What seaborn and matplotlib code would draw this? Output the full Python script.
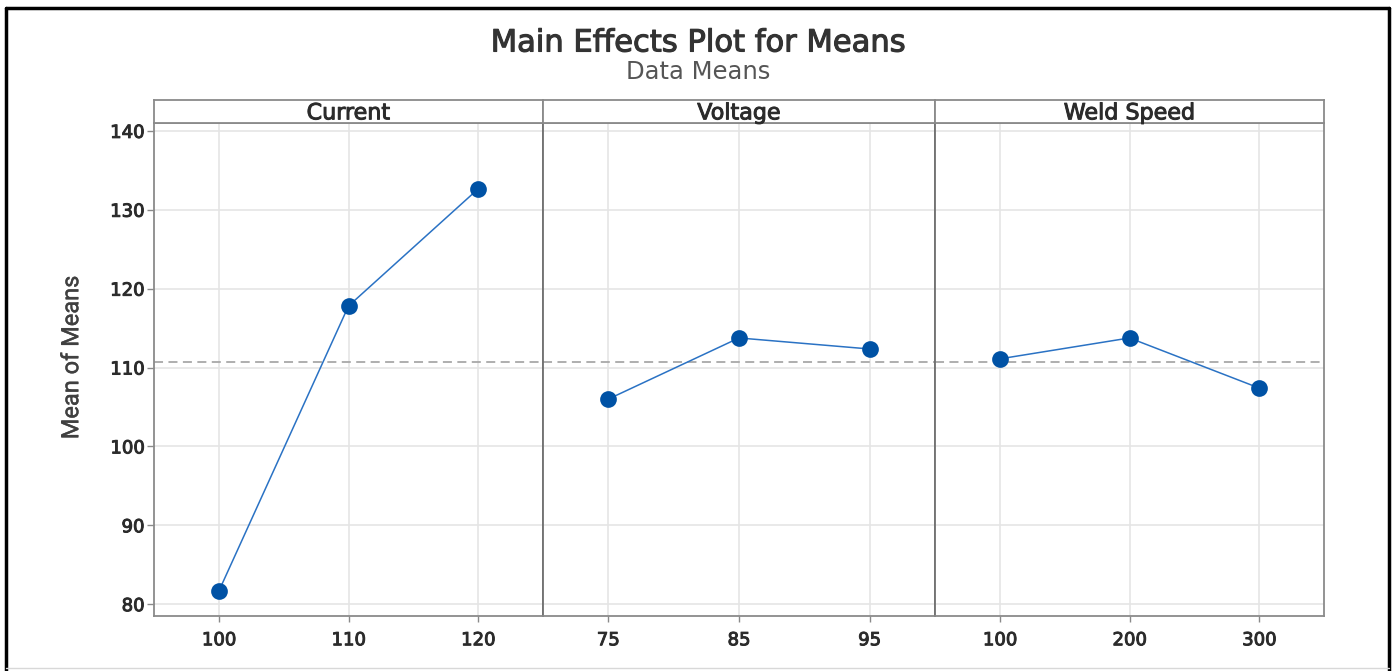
import numpy as np
import pandas as pd
import matplotlib
matplotlib.use("Agg")
import matplotlib.pyplot as plt
import matplotlib.patheffects as pe
import seaborn as sns
from matplotlib.lines import Line2D

# Main effects plot for means
factors = ["Current", "Voltage", "Weld Speed"]
current_levels = ["100", "110", "120"]
voltage_levels = ["75", "85", "95"]
speed_levels = ["100", "200", "300"]
current_means = [81.65, 117.8, 132.65]
voltage_means = [106.0, 113.75, 112.35]
speed_means = [111.1, 113.75, 107.4]
y_ticks = [80, 90, 100, 110, 120, 130, 140]

levels = [current_levels, voltage_levels, speed_levels]
means = [current_means, voltage_means, speed_means]
grand_mean = np.mean(current_means)

sns.set_theme(style="white")
plt.rcParams["font.family"] = ["DejaVu Sans"]

W, H = 1396, 671
fig = plt.figure(figsize=(W / 100, H / 100), dpi=100)

# panel geometry in pixels
strip_top, strip_bot, plot_bot = 100, 123, 616
edges = [154, 543, 935, 1324]
frame_col = "#8a8a8a"
blue = "#0052a5"
line_blue = "#2a72c4"
txt_col = "#2b2b2b"
bolden = [pe.withStroke(linewidth=0.7, foreground=txt_col)]


def px_box(x0, y0, x1, y1):
    return [x0 / W, 1 - y1 / H, (x1 - x0) / W, (y1 - y0) / H]


for i, name in enumerate(factors):
    ax = fig.add_axes(px_box(edges[i], strip_bot, edges[i + 1], plot_bot))
    df = pd.DataFrame({"level": levels[i], "mean": means[i]})
    sns.pointplot(data=df, x="level", y="mean", ax=ax, color=blue,
                  markers="o", linestyles="-", errorbar=None)
    for ln in ax.lines:
        ln.set_linewidth(1.1)
        ln.set_color(line_blue)
        ln.set_markerfacecolor(blue)
        ln.set_markeredgecolor(blue)
        ln.set_markersize(10)
    for coll in ax.collections:
        coll.set_sizes([110])
        coll.set_facecolor(blue)
        coll.set_edgecolor(blue)
    ax.axhline(grand_mean, color="#a8a8a8", lw=1.3, ls=(0, (5, 3)), zorder=1)
    ax.set_xlim(-0.5, 2.5)
    ax.set_ylim(78.5, 141.0)
    ax.set_yticks(y_ticks)
    ax.grid(True, color="#e5e5e5", lw=1.2)
    ax.set_axisbelow(True)
    ax.set_xlabel("")
    ax.set_ylabel("")
    ax.tick_params(axis="x", labelsize=13, labelcolor=txt_col, length=4,
                   width=1, direction="out", bottom=True, pad=7,
                   color=frame_col)
    for lab in ax.get_xticklabels():
        lab.set_path_effects(bolden)
    if i == 0:
        ax.tick_params(axis="y", labelsize=13, labelcolor=txt_col, length=5,
                       width=1, direction="out", left=True, pad=2,
                       color=frame_col)
        for lab in ax.get_yticklabels():
            lab.set_path_effects(bolden)
        ax.set_ylabel("Mean of Means", fontsize=17, color="#404040",
                      family=["Liberation Sans Narrow", "Roboto", "DejaVu Sans"],
                      path_effects=[pe.withStroke(linewidth=0.3,
                                                  foreground="#404040")])
        ax.yaxis.set_label_coords(-0.182, 0.525)
    else:
        ax.tick_params(axis="y", left=False, labelleft=False)
    for sp in ax.spines.values():
        sp.set_color(frame_col)
        sp.set_linewidth(1.3)
    if i > 0:
        ax.spines["left"].set_color("#707070")

    # strip header
    sax = fig.add_axes(px_box(edges[i], strip_top, edges[i + 1], strip_bot))
    sax.set_xticks([])
    sax.set_yticks([])
    sax.set_facecolor("white")
    for sp in sax.spines.values():
        sp.set_color(frame_col)
        sp.set_linewidth(1.3)
    sax.text(0.5, 0.42, name, ha="center", va="center", fontsize=16,
             color=txt_col, transform=sax.transAxes, path_effects=bolden)

fig.text(0.5, 1 - 43 / H, "Main Effects Plot for Means", ha="center",
         va="center", fontsize=22, color="#333333",
         path_effects=[pe.withStroke(linewidth=0.8, foreground="#333333")])
fig.text(0.5, 1 - 72 / H, "Data Means", ha="center", va="center",
         fontsize=17.5, color="#555555")

# outer frame: black on left/top/right, light grey at the bottom
def fig_line(x0, y0, x1, y1, **kw):
    fig.add_artist(Line2D([x0 / W, x1 / W], [1 - y0 / H, 1 - y1 / H],
                          transform=fig.transFigure, **kw))

fig_line(6, 8, 1389, 8, color="black", lw=2.5)
fig_line(6, 8, 6, 671, color="black", lw=2.5)
fig_line(1389, 8, 1389, 671, color="black", lw=2.5)
fig_line(6, 668, 1389, 668, color="#d8d8d8", lw=1)

fig.savefig("out.png", dpi=100)
